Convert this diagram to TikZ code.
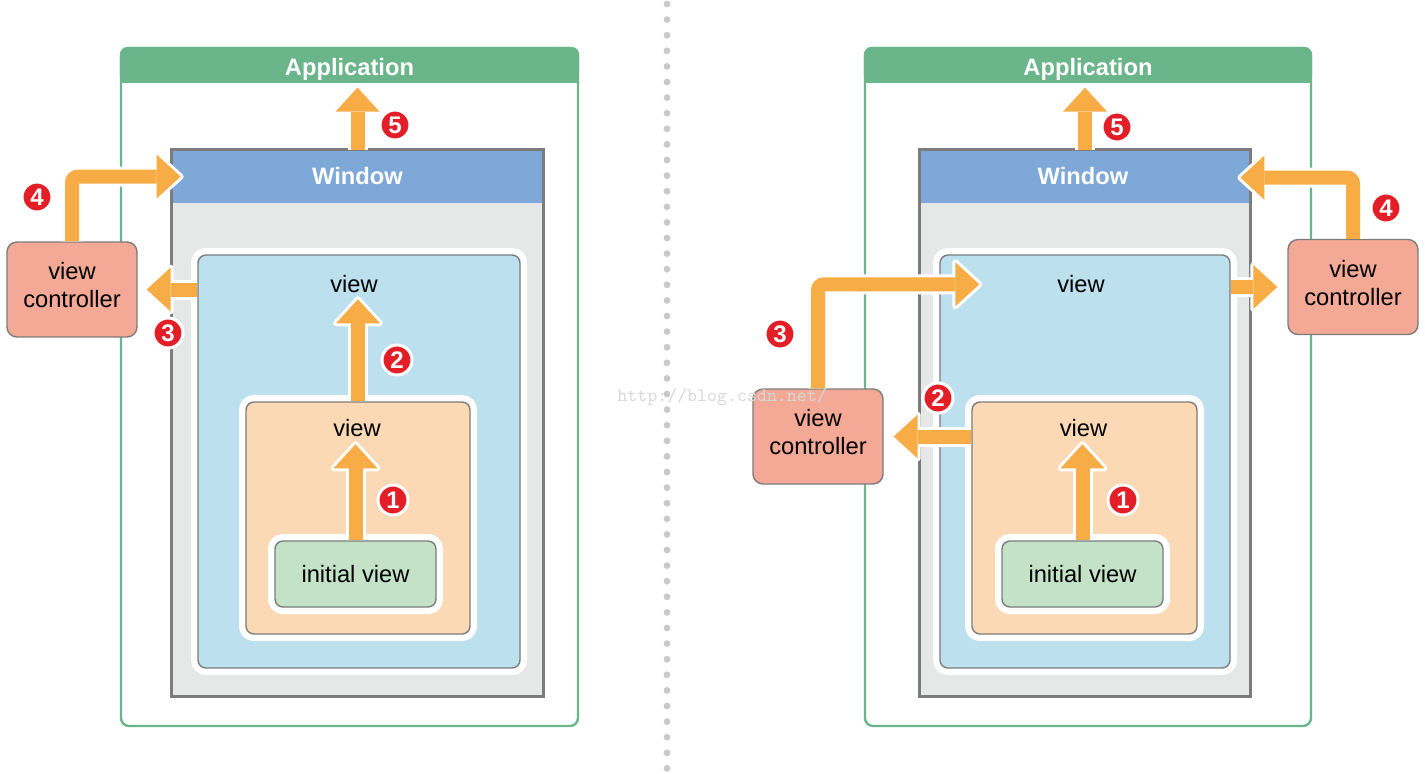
\documentclass[tikz,border=0pt]{standalone}
\usepackage{fontspec}
\setmainfont{Liberation Sans}
\usetikzlibrary{positioning}
\usetikzlibrary{calc}
\definecolor{appgreen}{HTML}{6BB58A}
\definecolor{winblue}{HTML}{7EA8D8}
\definecolor{wingray}{HTML}{E6E8E7}
\definecolor{viewblue}{HTML}{BCE0EE}
\definecolor{vieworange}{HTML}{FBD9B4}
\definecolor{initgreen}{HTML}{C3E2C8}
\definecolor{vcred}{HTML}{F4A996}
\definecolor{flow}{HTML}{F8AC45}
\definecolor{badgered}{HTML}{E31E26}
\definecolor{edgegray}{HTML}{7C7C7C}
\definecolor{dotgray}{HTML}{C9C9C9}
\definecolor{markgray}{HTML}{D8D8D8}
\newcommand{\lblfont}{\fontsize{11.85}{14}\selectfont}
\tikzset{
    flowhalo/.style={draw=white, line width=10pt, rounded corners=3pt},
    flowshaft/.style={draw=flow, line width=7pt, rounded corners=3pt},
    headhalo/.style={draw=white, line width=3pt, line join=round},
  }
% fat arrow: #1 shaft path, #2 base of the head, #3 tip
\newcommand{\fatarrow}[3]{%
  \draw[flowhalo] #1;
  \draw[headhalo] ($(#2)!11pt!90:(#3)$) -- (#3) -- ($(#2)!11pt!-90:(#3)$) -- cycle;
  \draw[flowshaft] #1;
  \fill[flow] ($(#2)!11pt!90:(#3)$) -- (#3) -- ($(#2)!11pt!-90:(#3)$) -- cycle;
}

\begin{document}
\begin{tikzpicture}[x=0.5pt,y=-0.5pt,
  appbox/.style={rectangle, rounded corners=4pt, draw=appgreen, line width=1.2pt, minimum height=339pt},
  winbox/.style={rectangle, fill=wingray, minimum height=273pt},
  winframe/.style={draw=edgegray, line width=1.2pt},
  viewbox/.style={rectangle, rounded corners=4pt, draw=edgegray, line width=0.7pt, preaction={draw=white, line width=7pt}},
  vcbox/.style={rectangle, rounded corners=5pt, draw=edgegray, line width=0.7pt, fill=vcred, minimum width=65pt, minimum height=47.5pt, align=center, inner sep=0pt, text depth=4.2pt, font=\lblfont},
  lbl/.style={inner sep=0pt, font=\lblfont},
  apptitle/.style={inner sep=0pt, text=white, font=\bfseries\lblfont},
  badge/.style={circle, fill=badgered, draw=white, line width=1.5pt, minimum size=15pt, inner sep=0pt, text=white, font=\bfseries\fontsize{12}{12}\selectfont},
  watermark/.style={inner sep=0pt, text=markgray, font=\ttfamily\fontsize{9.5}{10}\selectfont}]
  \useasboundingbox (0,0) rectangle (1425,773);

  % divider
  \foreach \y in {4,19.6,...,773}
    \fill[dotgray] (667,\y) circle (1.7pt);

  % left: view controller of the window
  \node[appbox, minimum width=228.5pt] (app) at (349.5,387) {};
  \fill[appgreen, rounded corners=4pt] (app.north west) rectangle ($(app.north east)+(0,36)$);
  \fill[appgreen] ($(app.north west)+(0,20)$) rectangle ($(app.north east)+(0,36)$);
  \node[apptitle] (apptxt) at ($(app.north)+(0,23)$) {Application};

  \node[winbox, minimum width=185.5pt] (win) at (357.5,423) {};
  \fill[winblue] (win.north west) rectangle ($(win.north east)+(0,53)$);
  \draw[winframe] (win.north west) rectangle (win.south east);
  \node[apptitle] (wintxt) at ($(win.north)+(0,26)$) {Window};

  \node[viewbox, fill=viewblue, minimum width=161pt, minimum height=206.5pt] (vw) at (359,461.5) {};
  \node[viewbox, fill=vieworange, minimum width=112pt, minimum height=116pt] (ov) at (358,518) {};
  \node[viewbox, fill=initgreen, minimum width=80.5pt, minimum height=33pt, font=\lblfont] (iv) at (355.5,574) {initial view};
  \node[lbl] (vwtxt) at ($(vw.north)+(-5,30)$) {view};
  \node[lbl] (ovtxt) at ($(ov.north)+(-1,27)$) {view};

  \node[vcbox] (vc) at (72,289.5) {view\\controller};

  \coordinate (t1) at ($(iv.north)+(0,-96)$);
  \coordinate (h1) at ($(t1)+(0,24)$);
  \fatarrow{(iv.north) -- (h1)}{h1}{t1}
  \coordinate (t2) at ($(ov.north)+(0,-102)$);
  \coordinate (h2) at ($(t2)+(0,24)$);
  \fatarrow{(ov.north) -- (h2)}{h2}{t2}
  \coordinate (t3) at ($(vc.east)+(9,0)$);
  \coordinate (h3) at ($(t3)+(24,0)$);
  \fatarrow{(vw.west |- vc.east) -- (h3)}{h3}{t3}
  \coordinate (t4) at ($(win.north west)+(9,27)$);
  \coordinate (h4) at ($(t4)+(-24,0)$);
  \fatarrow{(vc.north) |- (h4)}{h4}{t4}
  \coordinate (t5) at ($(win.north)+(0,-62)$);
  \coordinate (h5) at ($(t5)+(0,24)$);
  \fatarrow{(win.north) -- (h5)}{h5}{t5}

  \node[badge] (b1) at (393,500) {1};
  \node[badge] (b2) at (397,360) {2};
  \node[badge] (b3) at (168,333) {3};
  \node[badge] (b4) at (37,197) {4};
  \node[badge] (b5) at (395,125) {5};

  % right: view controller of a view
  \node[appbox, minimum width=223pt] (appR) at (1088,387) {};
  \fill[appgreen, rounded corners=4pt] (appR.north west) rectangle ($(appR.north east)+(0,36)$);
  \fill[appgreen] ($(appR.north west)+(0,20)$) rectangle ($(appR.north east)+(0,36)$);
  \node[apptitle] (apptxtR) at ($(appR.north)+(0,23)$) {Application};

  \node[winbox, minimum width=165pt] (winR) at (1085,423) {};
  \fill[winblue] (winR.north west) rectangle ($(winR.north east)+(0,53)$);
  \draw[winframe] (winR.north west) rectangle (winR.south east);
  \node[apptitle] (wintxtR) at ($(winR.north)+(-2,26)$) {Window};

  \node[viewbox, fill=viewblue, minimum width=145pt, minimum height=206.5pt] (vwR) at (1085,461.5) {};
  \node[viewbox, fill=vieworange, minimum width=112.5pt, minimum height=116pt] (ovR) at (1084.5,518) {};
  \node[viewbox, fill=initgreen, minimum width=80.5pt, minimum height=33pt, font=\lblfont] (ivR) at (1082.5,574) {initial view};
  \node[lbl] (vwtxtR) at ($(vwR.north)+(-4,30)$) {view};
  \node[lbl] (ovtxtR) at ($(ovR.north)+(-1,27)$) {view};

  \node[vcbox] (vcM) at (818,436.5) {view\\controller};
  \node[vcbox] (vcR) at (1353,287) {view\\controller};

  \coordinate (r1) at ($(ivR.north)+(0,-96)$);
  \coordinate (g1) at ($(r1)+(0,24)$);
  \fatarrow{(ivR.north) -- (g1)}{g1}{r1}
  \coordinate (r2) at ($(vcM.east)+(10,0)$);
  \coordinate (g2) at ($(r2)+(24,0)$);
  \fatarrow{(ovR.west |- vcM.east) -- (g2)}{g2}{r2}
  \coordinate (r3) at ($(vwR.north west)+(40,30)$);
  \coordinate (g3) at ($(r3)+(-24,0)$);
  \fatarrow{(vcM.north) |- (g3)}{g3}{r3}
  \coordinate (r6) at ($(vcR.west)+(-10,0)$);
  \coordinate (g6) at ($(r6)+(-24,0)$);
  \fatarrow{(vwR.east |- vcR.west) -- (g6)}{g6}{r6}
  \coordinate (r4) at ($(winR.north east)+(-10,28)$);
  \coordinate (g4) at ($(r4)+(24,0)$);
  \fatarrow{(vcR.north) |- (g4)}{g4}{r4}
  \coordinate (r5) at ($(winR.north)+(0,-62)$);
  \coordinate (g5) at ($(r5)+(0,24)$);
  \fatarrow{(winR.north) -- (g5)}{g5}{r5}

  \node[badge] (c1) at (1123,500) {1};
  \node[badge] (c2) at (938,398) {2};
  \node[badge] (c3) at (780,334) {3};
  \node[badge] (c4) at (1386,208) {4};
  \node[badge] (c5) at (1117,127) {5};

  \node[watermark, anchor=west] (wm) at (617,397) {http://blog.csdn.net/};
\end{tikzpicture}
\end{document}
